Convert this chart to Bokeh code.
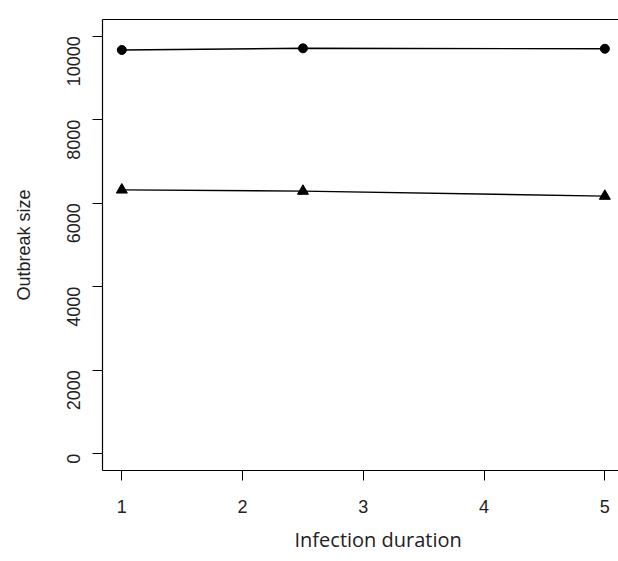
import math
from bokeh.plotting import figure
from bokeh.models import LinearAxis, Range1d, FixedTicker, Title
from bokeh.embed import file_html
from bokeh.resources import INLINE

durations = [1, 2.5, 5]
outbreak_circle = [9670, 9710, 9700]
outbreak_triangle = [6320, 6290, 6170]
x_ticks = [1, 2, 3, 4, 5]
y_ticks = [0, 2000, 4000, 6000, 8000, 10000]

p = figure(width=618, height=561, output_backend="svg", toolbar_location=None,
           x_range=Range1d(0.84, 5.113), y_range=Range1d(-400, 10400),
           min_border_left=102, min_border_right=0, min_border_top=19,
           min_border_bottom=90, y_axis_label="Outbreak size")
p.outline_line_color = None
p.grid.visible = False
p.background_fill_color = "white"
p.border_fill_color = "white"

for ax in p.axis:
    ax.axis_line_color = "black"
    ax.axis_line_width = 1.2
    ax.major_tick_line_color = "black"
    ax.major_tick_out = 10
    ax.major_tick_in = 0
    ax.minor_tick_line_color = None
    ax.major_label_text_font = "Liberation Sans"
    ax.major_label_text_font_size = "18px"
    ax.major_label_text_color = "#222222"

p.xaxis.ticker = FixedTicker(ticks=x_ticks)
p.yaxis.ticker = FixedTicker(ticks=y_ticks)
p.xaxis.major_label_standoff = 19
p.yaxis.major_label_standoff = 19
p.yaxis.major_label_orientation = math.pi / 2

p.yaxis.axis_label_text_font = "Liberation Sans"
p.yaxis.axis_label_text_font_size = "18px"
p.yaxis.axis_label_text_font_style = "normal"
p.yaxis.axis_label_text_color = "#222222"
p.yaxis.axis_label_standoff = 24

xtitle = Title(text="Infection duration", align="left", offset=192,
               text_font="Open Sans", text_font_size="20px",
               text_font_style="normal", text_color="#222222",
               standoff=17)
p.add_layout(xtitle, "below")

top = LinearAxis(ticker=FixedTicker(ticks=[]), major_label_text_font_size="0px",
                 major_tick_out=0, major_tick_in=0, minor_tick_out=0, minor_tick_in=0,
                 axis_line_color="black", axis_line_width=1.2)
p.add_layout(top, "above")

p.line(durations, outbreak_circle, line_color="black", line_width=1.4)
p.scatter(durations, outbreak_circle, marker="circle", size=9,
          fill_color="black", line_color="black")
p.line(durations, outbreak_triangle, line_color="black", line_width=1.4)
p.scatter(durations, outbreak_triangle, marker="triangle", size=11,
          fill_color="black", line_color="black")

open("out.html", "w").write(file_html(p, INLINE))
